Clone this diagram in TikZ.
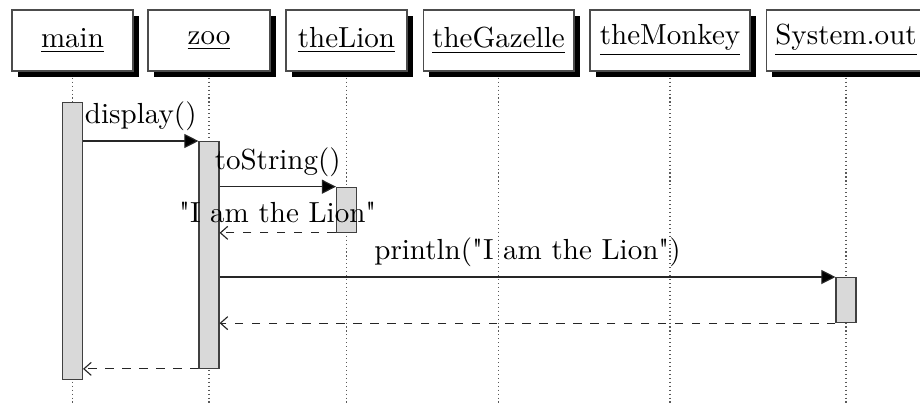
\documentclass[tikz,border=0pt]{standalone}
\usetikzlibrary{arrows.meta,shadows}
\begin{document}
\begin{tikzpicture}[x=0.3546pt,y=-0.3546pt,
  every node/.style={font=\fontsize{10.3pt}{12.4pt}\selectfont},
  inst/.style={draw=black!70, fill=white, line width=0.4pt, minimum height=21.6pt, inner sep=0pt,
    drop shadow={shadow xshift=2.1pt, shadow yshift=-2.1pt, fill=black, opacity=1}},
  life/.style={densely dotted, black!65},
  act/.style={draw=black!75, fill=black!15, minimum width=7.09pt, inner sep=0pt, anchor=north},
  call/.style={-{Triangle[length=5pt,width=5pt,fill=black]}, black!85},
  ret/.style={-{Straight Barb[length=2.6pt,width=4.6pt]}, dashed, black!85}]
\clip (0,0) rectangle (920,409);
\useasboundingbox (0,0) rectangle (920,409);
\coordinate (bot) at (0,405);
% instances
\node[inst, minimum width=42.9pt] (main) at (72.5,40.5) {\underline{main}};
\node[inst, minimum width=43.3pt] (zoo) at (209,40.5) {\underline{zoo}};
\node[inst, minimum width=42.9pt] (lion) at (346.5,40.5) {\underline{theLion}};
\node[inst, minimum width=53.5pt] (gaz) at (498.5,40.5) {\underline{theGazelle}};
\node[inst, minimum width=56.7pt] (monk) at (670,40.5) {\underline{theMonkey}};
\node[inst, minimum width=56.7pt] (sys) at (846,40.5) {\underline{System.out}};
% lifelines
\foreach \n in {main,zoo,lion,gaz,monk,sys}
  \draw[life] ([yshift=-2.2pt]\n.south) -- (\n.south |- bot);
% activations
\node[act, minimum height=98.2pt] (am) at (72.5,101.7) {};
\node[act, minimum height=80.4pt] (az) at (209,141) {};
\node[act, minimum height=15.96pt] (al) at (346.5,186.7) {};
\node[act, minimum height=15.96pt] (as) at (846,277) {};
% messages
\draw[call] (am.east |- az.north) -- node[above, text=black] {display()} (az.north west);
\draw[call] (az.east |- al.north) -- node[above, text=black] {toString()} (al.north west);
\draw[ret] (al.south west) -- node[above, text=black] {\textquotedbl I am the Lion\textquotedbl} (az.east |- al.south);
\draw[call] (az.east |- as.north) -- node[above, text=black] {println(\textquotedbl I am the Lion\textquotedbl)} (as.north west);
\draw[ret] (as.south west) -- (az.east |- as.south);
\draw[ret] (az.south west) -- (am.east |- az.south);
\end{tikzpicture}
\end{document}
